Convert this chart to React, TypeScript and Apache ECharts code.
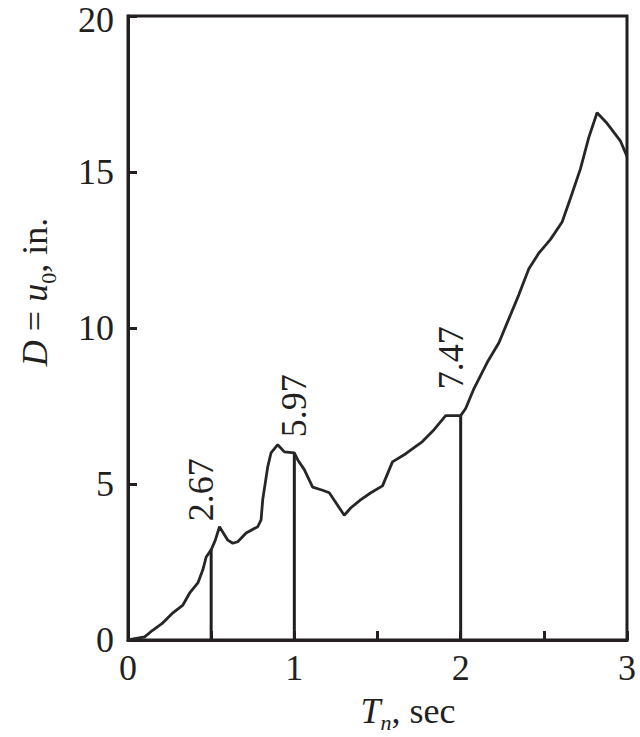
import React, { useEffect, useRef } from "react";
import * as echarts from "echarts";

// Spectral displacement response
const periods = [0, 0.10, 0.15, 0.21, 0.27, 0.33, 0.37, 0.42, 0.45, 0.47, 0.50, 0.525, 0.55, 0.60, 0.63, 0.66, 0.71, 0.78, 0.80, 0.81, 0.84, 0.86, 0.90, 0.94, 1.00, 1.02, 1.06, 1.11, 1.17, 1.21, 1.25, 1.30, 1.34, 1.40, 1.46, 1.53, 1.59, 1.67, 1.77, 1.84, 1.91, 2.00, 2.03, 2.08, 2.16, 2.23, 2.29, 2.35, 2.41, 2.47, 2.54, 2.61, 2.66, 2.72, 2.77, 2.82, 2.88, 2.96, 3.00];
const deformation = [0, 0.1, 0.32, 0.55, 0.87, 1.12, 1.5, 1.83, 2.25, 2.66, 2.89, 3.2, 3.63, 3.2, 3.1, 3.15, 3.43, 3.63, 3.85, 4.5, 5.55, 6.0, 6.26, 6.03, 6.0, 5.78, 5.46, 4.9, 4.8, 4.72, 4.4, 4.0, 4.24, 4.5, 4.72, 4.94, 5.71, 5.97, 6.36, 6.74, 7.19, 7.19, 7.42, 8.06, 8.9, 9.53, 10.3, 11.07, 11.9, 12.4, 12.84, 13.4, 14.16, 15.1, 16.1, 16.9, 16.56, 16.0, 15.5];

const markerPeriods = [0.5, 1, 2];
const markerTops = [2.89, 6.0, 7.19];
const markerLabels = ["2.67", "5.97", "7.47"];

const xTicks = [0, 1, 2, 3];
const yTicks = [0, 5, 10, 15, 20];

const INK = "#231f20";
const SERIF = "'Liberation Serif', 'Times New Roman', serif";

export default function App() {
  const ref = useRef<HTMLDivElement>(null);

  useEffect(() => {
    document.body.style.margin = "0";
    if (!ref.current) return;
    const chart = echarts.init(ref.current, null, { renderer: "svg" });

    const labelGap = [28, 15, 26];
    const labelShift = [-10, 0, -10];

    const markerSeries = markerPeriods.map((p, i) => ({
      type: "line",
      data: [
        [p, 0],
        {
          value: [p, markerTops[i]],
          label: {
            show: true,
            formatter: markerLabels[i],
            position: "top",
            distance: labelGap[i],
            offset: [0, labelShift[i]],
            rotate: 90,
            align: "left",
            verticalAlign: "middle",
            fontFamily: SERIF,
            fontSize: 36,
            color: INK,
          },
        },
      ],
      showSymbol: true,
      symbol: "circle",
      symbolSize: 1,
      itemStyle: { color: "rgba(0,0,0,0)" },
      lineStyle: { color: INK, width: 3 },
      z: 3,
    }));

    const yMax = yTicks[yTicks.length - 1];

    chart.setOption({
      animation: false,
      backgroundColor: "#ffffff",
      grid: {
        left: 128,
        right: 13,
        top: 16,
        bottom: 97,
        show: true,
        borderColor: INK,
        borderWidth: 3,
        outerBoundsMode: "none",
      },
      xAxis: {
        type: "value",
        min: 0,
        max: 3,
        interval: 0.5,
        axisLine: { show: true, lineStyle: { color: INK, width: 3 } },
        axisTick: { show: true, inside: true, length: 9, lineStyle: { color: INK, width: 3 } },
        splitLine: { show: false },
        axisLabel: {
          margin: 10,
          fontFamily: SERIF,
          fontSize: 36,
          color: INK,
          formatter: (v: number) => (xTicks.includes(v) ? String(v) : ""),
        },
      },
      yAxis: {
        type: "value",
        min: 0,
        max: yMax,
        interval: 5,
        axisLine: { show: true, lineStyle: { color: INK, width: 3 } },
        axisTick: { show: true, inside: true, length: 9, lineStyle: { color: INK, width: 3 } },
        splitLine: { show: false },
        axisLabel: {
          margin: 14,
          fontFamily: SERIF,
          fontSize: 36,
          lineHeight: 28,
          color: INK,
          formatter: (v: number) =>
            !yTicks.includes(v) ? "" : v === yMax ? `{top|${v}}` : String(v),
          rich: {
            top: { fontFamily: SERIF, fontSize: 36, lineHeight: 28, color: INK, padding: [8, 0, 0, 0] },
          },
        },
      },
      graphic: [
        {
          type: "text",
          x: 408,
          y: 712,
          style: {
            text: "{i|T}{s|n}{r|, sec}",
            align: "center",
            verticalAlign: "middle",
            fill: INK,
            rich: {
              i: { fontFamily: SERIF, fontSize: 36, fontStyle: "italic", color: INK, lineHeight: 38, verticalAlign: "top" },
              s: { fontFamily: SERIF, fontSize: 22, fontStyle: "italic", color: INK, lineHeight: 20, padding: [18, 0, 0, 0], verticalAlign: "top" },
              r: { fontFamily: SERIF, fontSize: 36, color: INK, lineHeight: 38, verticalAlign: "top" },
            },
          },
        },
        {
          type: "text",
          x: 37,
          y: 292,
          rotation: Math.PI / 2,
          style: {
            text: "{i|D}{r| = }{i|u}{s|0}{r|, in.}",
            align: "center",
            verticalAlign: "middle",
            fill: INK,
            rich: {
              i: { fontFamily: SERIF, fontSize: 36, fontStyle: "italic", color: INK, lineHeight: 40, verticalAlign: "top" },
              s: { fontFamily: SERIF, fontSize: 22, color: INK, lineHeight: 22, padding: [20, 0, 0, 0], verticalAlign: "top" },
              r: { fontFamily: SERIF, fontSize: 36, color: INK, lineHeight: 40, verticalAlign: "top" },
            },
          },
        },
      ],
      series: [
        {
          type: "line",
          data: periods.map((p, i) => [p, deformation[i]]),
          showSymbol: false,
          lineStyle: { color: "#262626", width: 2.8 },
          z: 4,
        },
        ...markerSeries,
      ],
    });

    return () => chart.dispose();
  }, []);

  return <div ref={ref} style={{ width: 640, height: 737 }} />;
}
